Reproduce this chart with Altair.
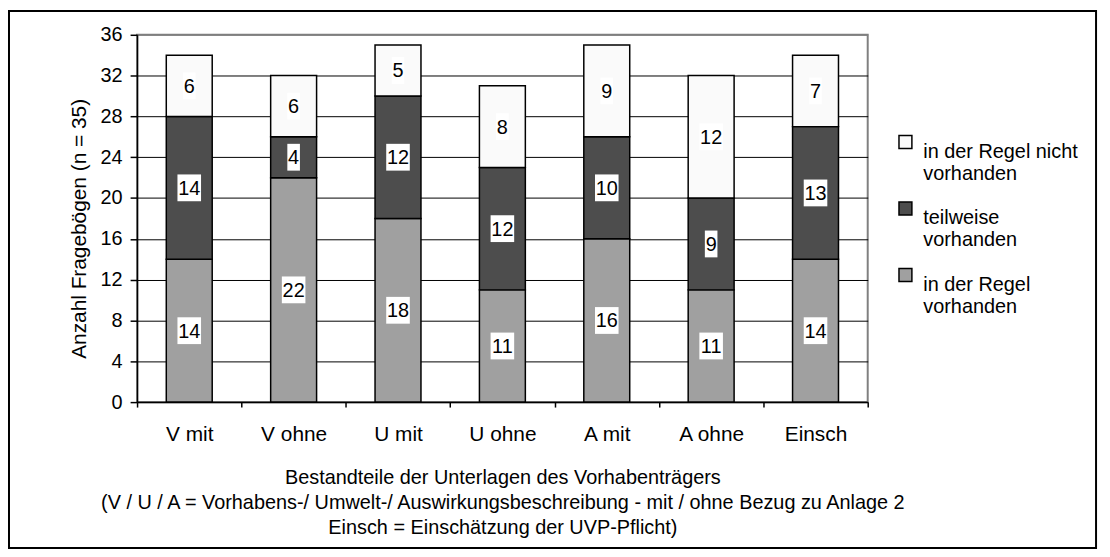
import altair as alt
import pandas as pd

categories = ["V mit", "V ohne", "U mit", "U ohne", "A mit", "A ohne", "Einsch"]
series_bottom_to_top = ["in der Regel vorhanden", "teilweise vorhanden", "in der Regel nicht vorhanden"]
vorhanden = [14, 22, 18, 11, 16, 11, 14]
teilweise = [14, 4, 12, 12, 10, 9, 13]
nicht_vorhanden = [6, 6, 5, 8, 9, 12, 7]
y_ticks = [0, 4, 8, 12, 16, 20, 24, 28, 32, 36]
legend_order = ["in der Regel nicht vorhanden", "teilweise vorhanden", "in der Regel vorhanden"]
legend_colors = ["#FAFAFA", "#4D4D4D", "#A0A0A0"]
x_title = ["Bestandteile der Unterlagen des Vorhabenträgers",
           "(V / U / A = Vorhabens-/ Umwelt-/ Auswirkungsbeschreibung - mit / ohne Bezug zu Anlage 2",
           "Einsch = Einschätzung der UVP-Pflicht)"]
y_title = "Anzahl Fragebögen (n = 35)"

rows = []
for vals, s_i in ((vorhanden, 0), (teilweise, 1), (nicht_vorhanden, 2)):
    for c, v in zip(categories, vals):
        rows.append({"cat": c, "series": series_bottom_to_top[s_i], "value": v, "ord": s_i})
df = pd.DataFrame(rows)

FONT = "Liberation Sans"
W, H = 736, 370

x_axis = alt.Axis(title=x_title, labelAngle=0, tickBand="extent", tickSize=5, labelPadding=17,
                  labelFontSize=21, titleFontSize=20, titleFontWeight="normal", titleLineHeight=25,
                  titleX=W / 2, titleY=66, titleAlign="center", titleBaseline="top", grid=False,
                  domainWidth=1.5)
y_axis = alt.Axis(title=y_title, values=y_ticks, tickSize=7, labelPadding=8, labelFontSize=20,
                  titleFontSize=21, titleFontWeight="normal", titleX=-58, titleY=195,
                  titleAngle=-90, titleAlign="center", titleBaseline="middle", grid=True,
                  gridColor={"condition": {"test": "datum.value >= 36", "value": "#808080"}, "value": "black"},
                  gridWidth=1, domainWidth=1.5)

x_scale = alt.Scale(paddingInner=0, paddingOuter=0)
y_scale = alt.Scale(domain=[0, 36], nice=False)

base = alt.Chart(df).transform_stack(
    stack="value", groupby=["cat"], sort=[alt.SortField("ord", order="ascending")], as_=["y0", "y1"]
).transform_calculate(mid="(datum.y0 + datum.y1) / 2")

X = alt.X("cat:N", sort=categories, scale=x_scale, axis=x_axis)

bars = base.mark_bar(width=alt.RelativeBandSize(0.44), stroke="black", strokeWidth=1.5).encode(
    x=X,
    y=alt.Y("y0:Q", scale=y_scale, axis=y_axis),
    y2="y1:Q",
    color=alt.Color("series:N", scale=alt.Scale(domain=legend_order, range=legend_colors),
                    legend=alt.Legend(title=None, orient="none", legendX=764, legendY=98,
                                      symbolType="square", symbolSize=169, symbolStrokeColor="black",
                                      symbolStrokeWidth=1.5, symbolOpacity=1,
                                      labelFontSize=20, labelFont=FONT, labelOffset=8,
                                      labelBaseline="top", labelLimit=300, rowPadding=15,
                                      labelExpr="[slice(datum.label, 0, lastindexof(datum.label, ' ')), slice(datum.label, lastindexof(datum.label, ' ') + 1)]")),
)

box2 = base.transform_filter("datum.value >= 10").mark_point(
    shape="M-0.88,-1L0.88,-1L0.88,1L-0.88,1Z", size=729, filled=True, fill="white", opacity=1,
    strokeWidth=0).encode(x=X, y=alt.Y("mid:Q", scale=y_scale, axis=y_axis))
box1 = base.transform_filter("datum.value < 10").mark_point(
    shape="M-0.47,-1L0.47,-1L0.47,1L-0.47,1Z", size=729, filled=True, fill="white", opacity=1,
    strokeWidth=0).encode(x=X, y=alt.Y("mid:Q", scale=y_scale, axis=y_axis))
labels = base.mark_text(fontSize=20, font=FONT, color="black", baseline="middle", dy=1).encode(
    x=X, y=alt.Y("mid:Q", scale=y_scale, axis=y_axis), text="value:Q")

border = alt.Chart(alt.Data(values=[{"b": 1}])).mark_rect(
    filled=False, stroke="black", strokeWidth=2, clip=False).encode(
    x=alt.value(-129), x2=alt.value(966), y=alt.value(-24), y2=alt.value(517))

chart = alt.layer(border, bars, box2, box1, labels).properties(
    width=W, height=H,
    autosize=alt.AutoSizeParams(type="none"),
    padding={"left": 130, "top": 25, "right": 236, "bottom": 149},
).configure_view(stroke="#808080", strokeWidth=2).configure_axis(
    labelFont=FONT, titleFont=FONT, labelColor="black", titleColor="black",
    domainColor="black", tickColor="black", tickWidth=1.5
).configure_legend(labelColor="black")

chart.save("out.html", embed_options={"renderer": "svg", "actions": False})
